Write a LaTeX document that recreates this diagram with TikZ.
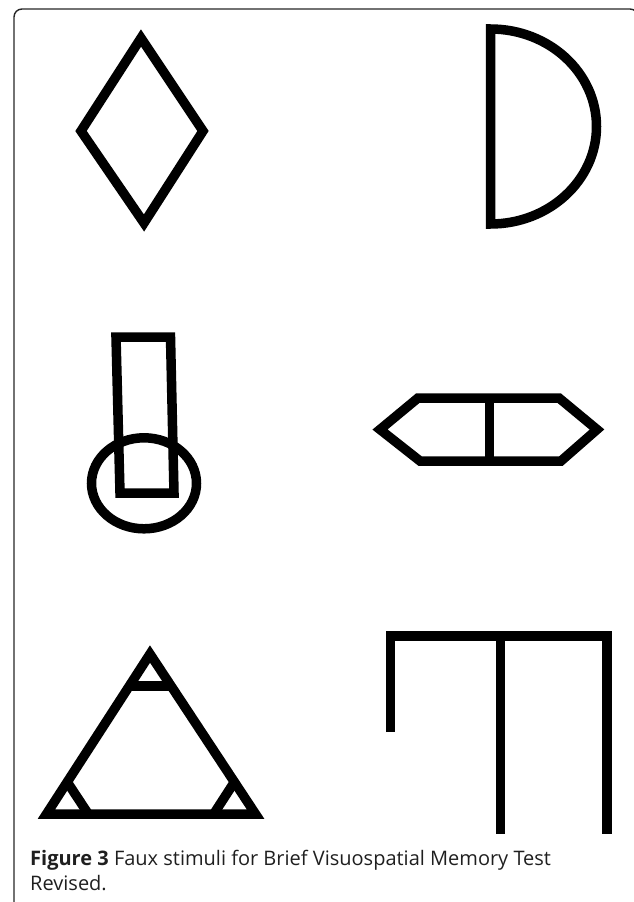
\documentclass[tikz,border=0pt]{standalone}
\usepackage{fontspec}
\setsansfont{Open Sans}
\usetikzlibrary{calc}

\begin{document}
\begin{tikzpicture}[
  x=1pt, y=-1pt,
  font=\sffamily,
  stim/.style={
    draw=black,
    line width=9.5pt,
    line join=miter,
    miter limit=10
  },
  panel/.style={
    draw=black!85,
    line width=1.4pt,
    rounded corners=8pt
  },
  captext/.style={
    anchor=north west,
    align=left,
    inner sep=0pt,
    text=black!88,
    font=\sffamily\fontsize{20}{24.5}\selectfont
  }
]

\useasboundingbox (0,0) rectangle (634,902);
\draw[panel] (14,915) -- (14,9) -- (638,9) -- (638,915);

\draw[stim] (141,38) -- (203,131) -- (144,223) -- (81,131) -- cycle;

\draw[stim] (490.5,29) arc[start angle=-90, end angle=90, x radius=106, y radius=97.5] -- cycle;

\draw[stim] (116,337) -- (170.5,337) -- (174,493) -- (120,493) -- cycle;
\draw[stim] (144,483.3) ellipse[x radius=52.5, y radius=45.5];

\draw[stim] (380,429.5) -- (418,398) -- (559,398) -- (597,429.5) -- (561,461) -- (420,461) -- cycle;
\draw[stim] (489.5,398) -- (489.5,461);

\coordinate (triTop) at (150,654);
\coordinate (triLeft) at (46.5,814);
\coordinate (triRight) at (255.5,814);
\draw[stim] (triTop) -- (triRight) -- (triLeft) -- cycle;
\draw[stim] ($(triTop)!0.2!(triLeft)$) -- ($(triTop)!0.2!(triRight)$);
\draw[stim] ($(triLeft)!0.2!(triTop)$) -- ($(triLeft)!0.2!(triRight)$);
\draw[stim] ($(triRight)!0.2!(triTop)$) -- ($(triRight)!0.2!(triLeft)$);

\draw[stim] (390.5,732) -- (390.5,636) -- (607,636) -- (607,834);
\draw[stim] (500.5,636) -- (500.5,834);

\node[captext] (caption) at (30,850) {\textbf{Figure 3} Faux stimuli for Brief Visuospatial Memory Test\\Revised.};

\end{tikzpicture}
\end{document}
